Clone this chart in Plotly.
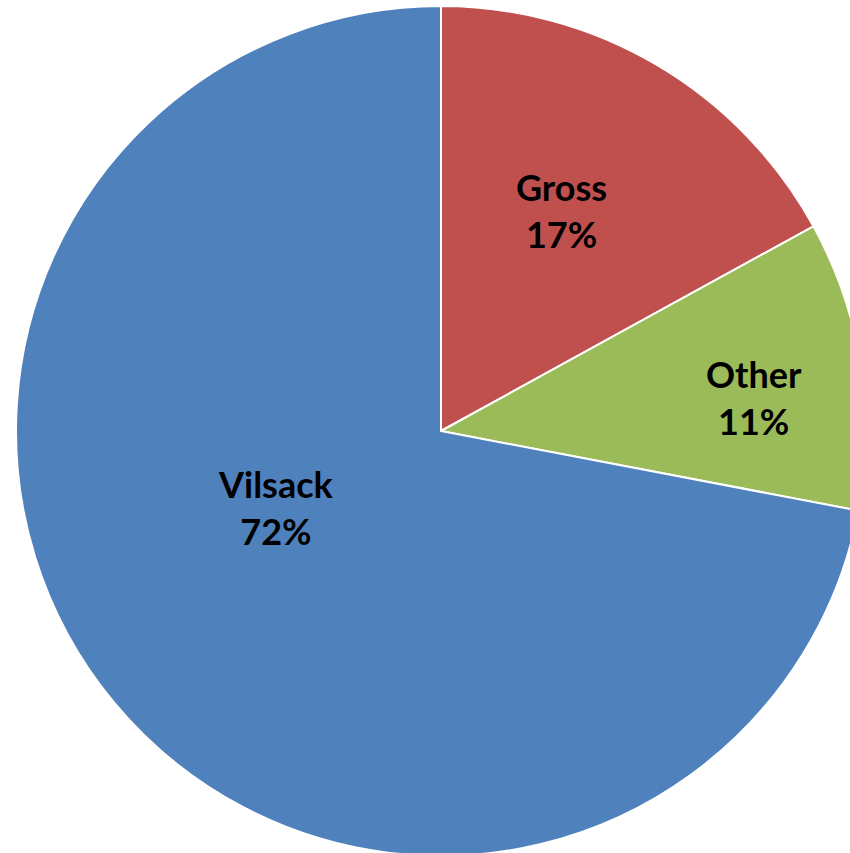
import plotly.graph_objects as go

# Vote share by candidate
candidates = ["Gross", "Other", "Vilsack"]
shares = [17, 11, 72]
colors = ["#C0504D", "#9BBB59", "#4F81BD"]

# Canvas is slightly larger than the viewport so the pie runs off the right/bottom edge
W, H = 882, 862
CX, CY, R = 441, 431, 425

fig = go.Figure(go.Pie(
    labels=candidates,
    values=shares,
    sort=False,
    direction="clockwise",
    rotation=0,
    marker=dict(colors=colors, line=dict(color="white", width=2)),
    textinfo="none",
    hoverinfo="label+percent",
    showlegend=False,
    domain=dict(x=[(CX - R) / W, (CX + R) / W],
                y=[1 - (CY + R) / H, 1 - (CY - R) / H]),
))

# Label anchor points (pixels on the canvas)
label_pos = {"Gross": (561, 210), "Other": (754, 397), "Vilsack": (276, 507)}
total = sum(shares)
for name, val in zip(candidates, shares):
    px, py = label_pos[name]
    fig.add_annotation(
        x=px / W, y=1 - py / H, xref="paper", yref="paper",
        xanchor="center", yanchor="middle",
        text=f"<b>{name}<br>{round(100 * val / total)}%</b>",
        showarrow=False, align="center",
        font=dict(family="Lato, 'Open Sans', sans-serif", size=36, color="black"),
    )

fig.update_layout(
    width=W, height=H,
    margin=dict(l=0, r=0, t=0, b=0),
    paper_bgcolor="white", plot_bgcolor="white",
)

fig.write_html("out.html", post_script="document.body.style.margin='0';document.body.style.overflow='hidden';document.documentElement.style.overflow='hidden';")
